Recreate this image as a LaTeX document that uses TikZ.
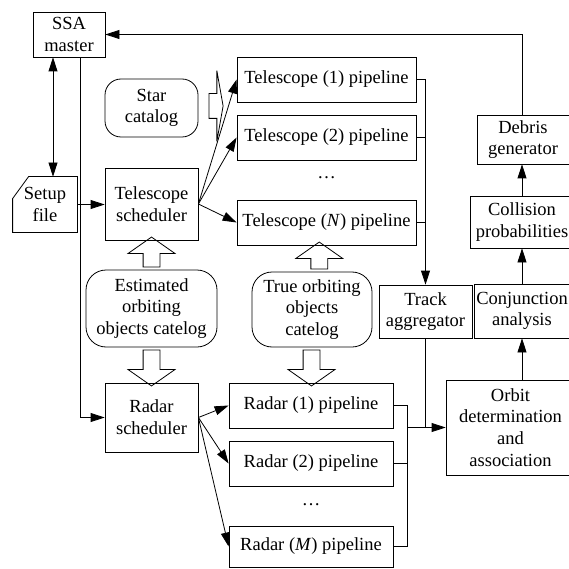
\documentclass[tikz,border=0pt]{standalone}
\usepackage{fontspec}
\setmainfont{Liberation Serif}
\usetikzlibrary{arrows.meta,shapes.arrows,calc}

\begin{document}
\begin{tikzpicture}[x=1pt,y=-1pt,line width=0.8pt,
  font=\fontsize{18.5}{21.7}\selectfont,
  >={Triangle[length=14pt,width=9pt]},
  block/.style={rectangle,draw,align=center,inner sep=1pt},
  store/.style={rectangle,draw,rounded corners=16pt,align=center,inner sep=1pt},
  fat/.style={single arrow,draw,inner xsep=0pt,inner ysep=8pt,single arrow head extend=15pt,single arrow tip angle=110,minimum height=#1}]
\useasboundingbox (0,0) rectangle (569,569);
\clip (0,0) rectangle (569,569);
% left column
\node[block] (ssa) [minimum width=72pt,minimum height=45pt] at (69,34.5) {SSA\\master};
\node[block,draw=none] (setup) [minimum width=64pt,minimum height=55pt] at (45,204.5) {Setup\\file};
\draw (setup.south west) -- ([yshift=-22pt]setup.north west) -- ([xshift=16pt]setup.north west)
  -- (setup.north east) -- (setup.south east) -- cycle;
\node[store] (star) [minimum width=93pt,minimum height=58pt] at (151.5,108) {Star\\catalog};
\node[block] (tsched) [minimum width=93pt,minimum height=72pt] at (151.5,204) {Telescope\\scheduler};
\node[store] (estcat) [minimum width=131pt,minimum height=77pt,rounded corners=20pt] at (151.5,308.5) {Estimated\\orbiting\\objects catelog};
\node[block] (rsched) [minimum width=93pt,minimum height=69pt] at (151.5,417.5) {Radar\\scheduler};
% pipelines
\node[block] (tel1) [minimum width=179pt,minimum height=45pt] at (326.5,79.5) {Telescope (1) pipeline};
\node[block] (tel2) [minimum width=179pt,minimum height=45pt] at (326.5,137.5) {Telescope (2) pipeline};
\node (teldots) at (326.5,178) {…};
\node[block] (telN) [minimum width=179pt,minimum height=45pt] at (326.5,222.5) {Telescope (\textit{N}) pipeline};
\node[store] (truecat) [minimum width=120pt,minimum height=75pt,rounded corners=20pt] at (312,309.5) {True orbiting\\objects\\catelog};
\node[block] (rad1) [minimum width=164pt,minimum height=45pt] at (311,405.5) {Radar (1) pipeline};
\node[block] (rad2) [minimum width=164pt,minimum height=45pt] at (311,463.5) {Radar (2) pipeline};
\node (raddots) at (311,505) {…};
\node[block] (radM) [minimum width=164pt,minimum height=41pt] at (311,546.5) {Radar (\textit{M}) pipeline};
% right column
\node[block] (track) [minimum width=93pt,minimum height=53pt] at (425.5,311.5) {Track\\aggregator};
\node[block] (conj) [minimum width=96pt,minimum height=54pt] at (522,311) {Conjunction\\analysis};
\node[block] (coll) [minimum width=104pt,minimum height=52pt] at (522,222) {Collision\\probabilities};
\node[block] (debris) [minimum width=92pt,minimum height=49pt] at (523,139.5) {Debris\\generator};
\node[block] (orbit) [minimum width=129pt,minimum height=95pt] at (510.5,427.5) {Orbit\\determination\\and\\association};
% hollow arrows
\node[fat=30pt,rotate=90] (estup) at ($(estcat.north)!0.5!(tsched.south)$) {};
\node[fat=36pt,rotate=-90] (estdown) at ($(estcat.south)!0.5!(rsched.north)$) {};
\node[fat=27pt,rotate=90] (trueup) at ($(truecat.north)!0.5!(telN.south)$) {};
\node[fat=36pt,rotate=-90] (truedown) at ($(truecat.south)!0.5!(rad1.north)$) {};
\node[fat=14pt,inner ysep=12pt,single arrow head extend=23pt,single arrow tip angle=160] (starfat) at (215,106) {};
% connectors
\draw[<->] ([xshift=-16pt]ssa.south) -- ([xshift=-16pt]ssa.south |- setup.north);
\draw[->] ([xshift=11pt]ssa.south) |- (rsched.west);
\draw[->] (setup.east) -- (setup.east -| tsched.west);
\path[->] (tsched.east) edge (tel1.west) edge (tel2.west) edge (telN.west);
\draw[->] (tel1.east) -| (track.north);
\draw (tel2.east) -- (tel2.east -| track.north);
\draw (telN.east) -- (telN.east -| track.north);
\draw (track.south) -- (track.south |- orbit.west);
\path[->] (rsched.east) edge (rad1.west) edge (rad2.west) edge (radM.west);
\draw (rad1.east) -- ++(14,0) coordinate (rbus) |- (radM.east);
\draw (rad2.east) -- (rad2.east -| rbus);
\draw[->] (rbus |- orbit.west) -- (orbit.west);
\draw[->] (conj.south |- orbit.north) -- (conj.south);
\draw[->] (conj.north) -- (coll.south);
\draw[->] (coll.north) -- (coll.north |- debris.south);
\draw[->] (coll.north |- debris.north) |- (ssa.east);
\end{tikzpicture}
\end{document}
